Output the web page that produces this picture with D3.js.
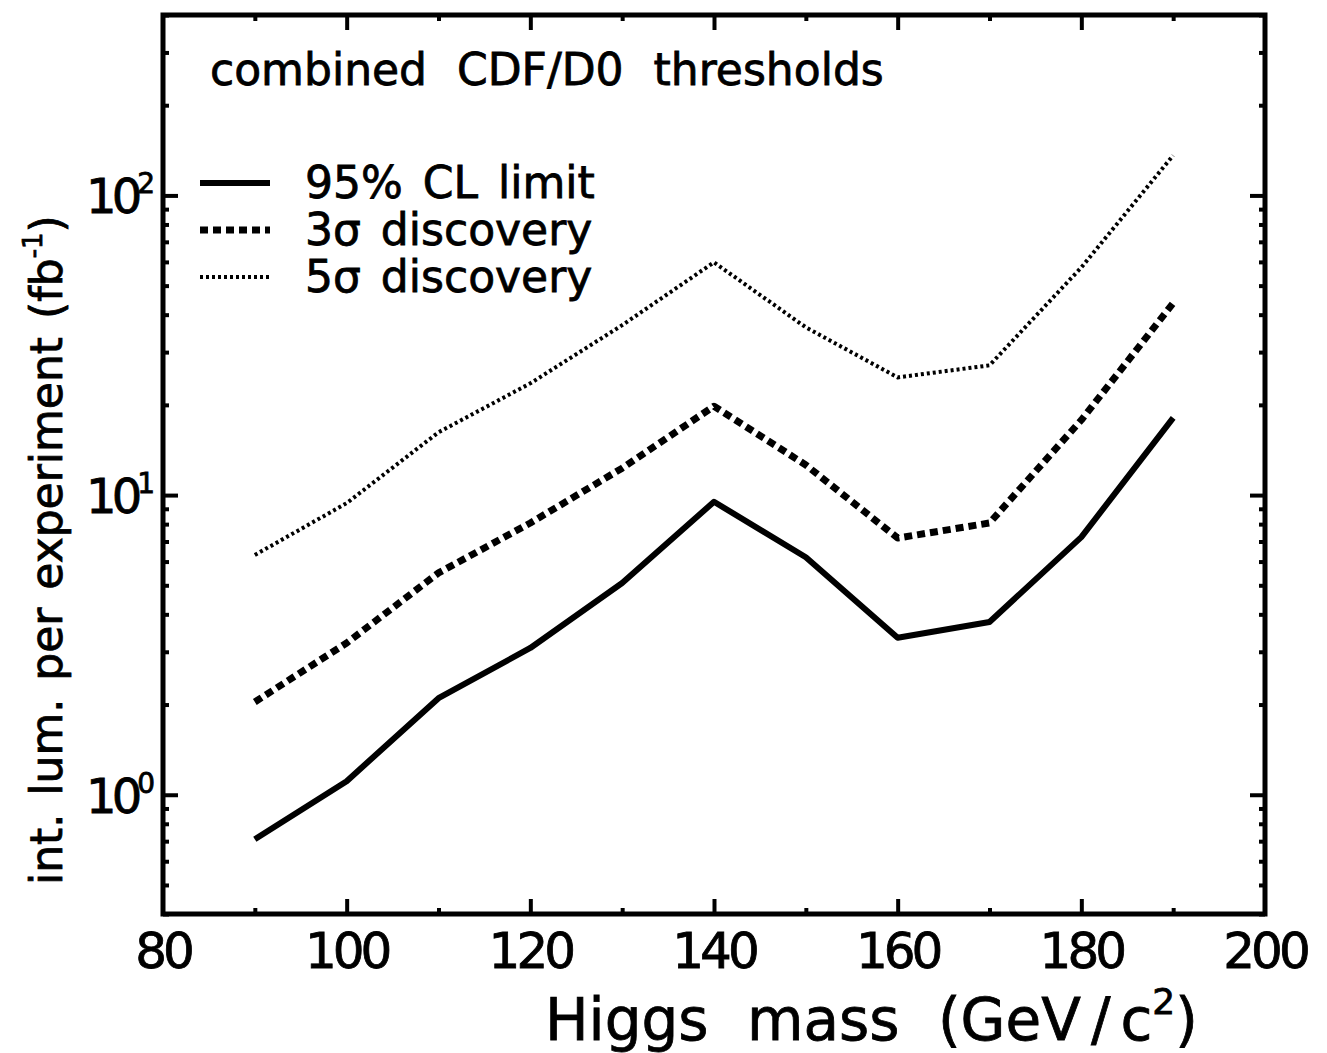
<!DOCTYPE html>
<html>
<head>
<meta charset="utf-8">
<script src="https://cdn.jsdelivr.net/npm/d3@7"></script>
<style>
  html, body { margin: 0; padding: 0; background: #fff; }
  svg text { font-family: "DejaVu Sans", "Liberation Sans", sans-serif; fill: #000; stroke: #000; stroke-width: 0.8px; }
</style>
</head>
<body>
<script>
// Higgs mass points (GeV/c^2)
const masses = [90, 100, 110, 120, 130, 140, 150, 160, 170, 180, 190];
// Integrated luminosity per experiment (fb^-1) required for each threshold
const limit95 = [0.71, 1.11, 2.10, 3.09, 5.09, 9.5, 6.2, 3.34, 3.77, 7.24, 18.1];
const disc3sigma = [2.04, 3.21, 5.5, 8.07, 12.3, 19.8, 12.6, 7.19, 8.07, 17.8, 43.7];
const disc5sigma = [6.31, 9.4, 16.2, 23.6, 36.9, 59.8, 36.3, 24.7, 27.1, 57.5, 136];

const seriesNames = ["95% CL limit", "3\u03C3 discovery", "5\u03C3 discovery"];
const xMajorTicks = [80, 100, 120, 140, 160, 180, 200];
const xMinorTicks = [90, 110, 130, 150, 170, 190];
const yMajorTicks = [1, 10, 100];
const yTickExponents = ["0", "1", "2"];

const W = 1327, H = 1053;
const plot = { left: 163, right: 1265, top: 15, bottom: 914 };

const svg = d3.select("body").append("svg")
  .attr("width", W).attr("height", H);

const x = d3.scaleLinear().domain([80, 200]).range([plot.left, plot.right]);
const y = d3.scaleLog().domain([0.4, 400]).range([plot.bottom, plot.top]);

const yMinorTicks = y.ticks().filter(v => !yMajorTicks.includes(v));

// ---- inward tick marks on all four sides ----
function styleAxis(g) {
  g.select(".domain").remove();
  g.selectAll(".tick line").attr("stroke", "#000").attr("stroke-width", 4);
}
const majorLen = 15, minorLen = 6;

svg.append("g").attr("transform", `translate(0,${plot.bottom})`)
  .call(d3.axisBottom(x).tickValues(xMajorTicks.slice(1, -1)).tickSize(-majorLen).tickFormat(""))
  .call(styleAxis);
svg.append("g").attr("transform", `translate(0,${plot.bottom})`)
  .call(d3.axisBottom(x).tickValues(xMinorTicks).tickSize(-minorLen).tickFormat(""))
  .call(styleAxis);
svg.append("g").attr("transform", `translate(0,${plot.top})`)
  .call(d3.axisTop(x).tickValues(xMajorTicks.slice(1, -1)).tickSize(-majorLen).tickFormat(""))
  .call(styleAxis);
svg.append("g").attr("transform", `translate(0,${plot.top})`)
  .call(d3.axisTop(x).tickValues(xMinorTicks).tickSize(-minorLen).tickFormat(""))
  .call(styleAxis);

svg.append("g").attr("transform", `translate(${plot.left},0)`)
  .call(d3.axisLeft(y).tickValues(yMajorTicks).tickSize(-majorLen).tickFormat(""))
  .call(styleAxis);
svg.append("g").attr("transform", `translate(${plot.left},0)`)
  .call(d3.axisLeft(y).tickValues(yMinorTicks).tickSize(-minorLen).tickFormat(""))
  .call(styleAxis);
svg.append("g").attr("transform", `translate(${plot.right},0)`)
  .call(d3.axisRight(y).tickValues(yMajorTicks).tickSize(-majorLen).tickFormat(""))
  .call(styleAxis);
svg.append("g").attr("transform", `translate(${plot.right},0)`)
  .call(d3.axisRight(y).tickValues(yMinorTicks).tickSize(-minorLen).tickFormat(""))
  .call(styleAxis);

// ---- frame ----
svg.append("rect")
  .attr("x", plot.left).attr("y", plot.top)
  .attr("width", plot.right - plot.left).attr("height", plot.bottom - plot.top)
  .attr("fill", "none").attr("stroke", "#000").attr("stroke-width", 5);

// ---- tick labels ----
svg.append("g").selectAll("text").data(xMajorTicks).join("text")
  .attr("x", d => x(d)).attr("y", 968)
  .attr("text-anchor", "middle")
  .attr("font-size", 50)
  .attr("stroke-width", 2)
  .attr("letter-spacing", -4)
  .text(d => d);

const yLab = svg.append("g").selectAll("text").data(yMajorTicks).join("text")
  .attr("x", 150).attr("y", d => y(d) + 18)
  .attr("text-anchor", "end")
  .attr("font-size", 48)
  .attr("stroke-width", 2)
  .attr("letter-spacing", -5);
yLab.append("tspan").text("10");
yLab.append("tspan").attr("font-size", 28).attr("dy", -20).text((d, i) => yTickExponents[i]);

// ---- axis titles ----
const xTitle = svg.append("text")
  .attr("x", 545).attr("y", 1040)
  .attr("font-size", 58)
  .attr("word-spacing", 20);
xTitle.append("tspan").text("Higgs mass (GeV");
xTitle.append("tspan").attr("dx", 10).text("/");
xTitle.append("tspan").attr("dx", 10).text("c");
xTitle.append("tspan").attr("font-size", 36).attr("dy", -26).text("2");
xTitle.append("tspan").attr("dy", 26).text(")");

const yTitle = svg.append("text")
  .attr("transform", "translate(62,885) rotate(-90)")
  .attr("font-size", 44)
  .attr("word-spacing", 4);
yTitle.append("tspan").text("int. lum. per experiment (fb");
yTitle.append("tspan").attr("font-size", 26).attr("dy", -20).text("-1");
yTitle.append("tspan").attr("dy", 20).text(")");

// ---- curves ----
const series = [
  { values: limit95, width: 6, dash: null },
  { values: disc3sigma, width: 7, dash: "8,5" },
  { values: disc5sigma, width: 4, dash: "3,3" }
];

const line = d3.line().x(d => x(d[0])).y(d => y(d[1]));

svg.append("g").selectAll("path").data(series).join("path")
  .attr("d", s => line(masses.map((m, i) => [m, s.values[i]])))
  .attr("fill", "none")
  .attr("stroke", "#000")
  .attr("stroke-width", s => s.width)
  .attr("stroke-dasharray", s => s.dash)
  .attr("stroke-linejoin", "round");

// ---- heading ----
svg.append("text")
  .attr("x", 210).attr("y", 85)
  .attr("font-size", 44)
  .attr("word-spacing", 16)
  .text("combined CDF/D0 thresholds");

// ---- legend ----
const legendRows = [0, 1, 2].map(i => ({ name: seriesNames[i], s: series[i], ly: 183 + i * 47 }));
const legend = svg.append("g");
legend.selectAll("line").data(legendRows).join("line")
  .attr("x1", 200).attr("x2", 270)
  .attr("y1", d => d.ly).attr("y2", d => d.ly)
  .attr("stroke", "#000")
  .attr("stroke-width", d => d.s.width)
  .attr("stroke-dasharray", d => d.s.dash);
legend.selectAll("text").data(legendRows).join("text")
  .attr("x", 305).attr("y", d => d.ly + 15)
  .attr("font-size", 44)
  .attr("word-spacing", 6)
  .text(d => d.name);
</script>
</body>
</html>
